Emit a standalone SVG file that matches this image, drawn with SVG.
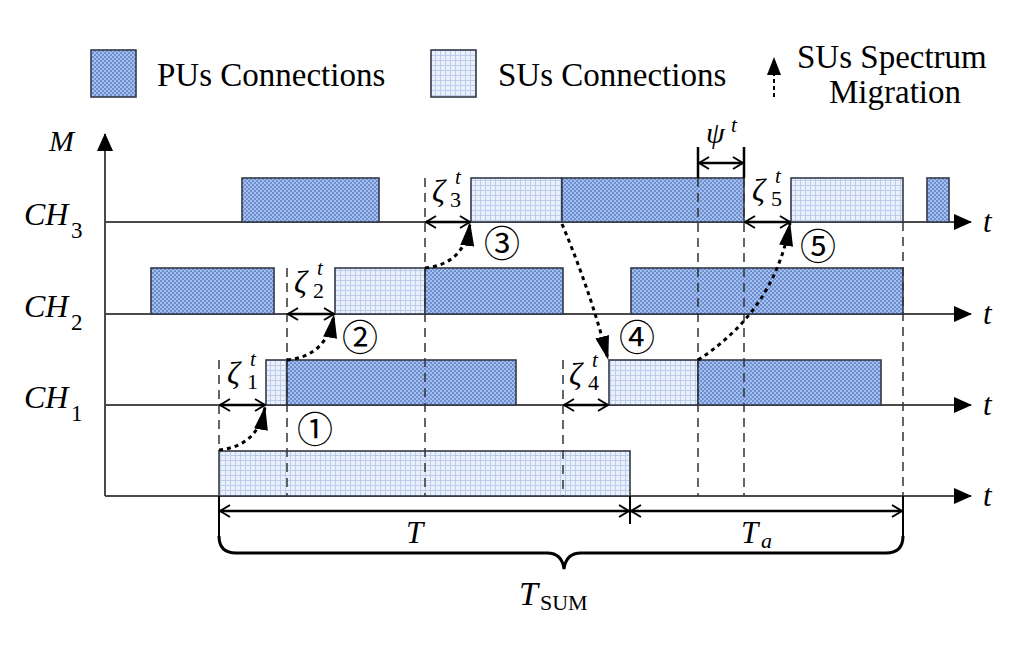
<svg xmlns="http://www.w3.org/2000/svg" width="1024" height="653" viewBox="0 0 1024 653">
<defs>
<pattern id="puPat" width="4" height="4" patternUnits="userSpaceOnUse">
<rect width="4" height="4" fill="#a6bfeb"/>
<rect width="2" height="2" fill="#6b8fd2"/>
<rect x="2" y="2" width="2" height="2" fill="#6b8fd2"/>
</pattern>
<pattern id="suPat" width="5" height="5" patternUnits="userSpaceOnUse">
<rect width="5" height="5" fill="#eaf0fb"/>
<path d="M0 0.5H5M0.5 0V5" stroke="#bccdea" stroke-width="1"/>
</pattern>
<marker id="open" viewBox="0 0 12 14" refX="11" refY="7" markerWidth="12" markerHeight="14" markerUnits="userSpaceOnUse" orient="auto-start-reverse">
<path d="M1,1 L11,7 L1,13" fill="none" stroke="#000" stroke-width="2"/>
</marker>
<marker id="solid" viewBox="0 0 24 14" refX="23" refY="7" markerWidth="24" markerHeight="14" markerUnits="userSpaceOnUse" orient="auto">
<path d="M0,0 L24,7 L0,14 z" fill="#000"/>
</marker>
<marker id="axisHead" viewBox="0 0 18 16" refX="17" refY="8" markerWidth="18" markerHeight="16" markerUnits="userSpaceOnUse" orient="auto">
<path d="M0,0 L18,8 L0,16 z" fill="#000"/>
</marker>
</defs>
<style>
.pu{fill:url(#puPat);stroke:#333a48;stroke-width:1.6}
.su{fill:url(#suPat);stroke:#333a48;stroke-width:1.6}
.axis{stroke:#4a4a4a;stroke-width:2;fill:none}
.dash{stroke:#333;stroke-width:1.5;stroke-dasharray:9 6;fill:none}
.dim{stroke:#000;stroke-width:2.5;fill:none;marker-start:url(#open);marker-end:url(#open)}
.mig{stroke:#000;stroke-width:3;stroke-dasharray:4 4;fill:none;marker-end:url(#solid)}
.tick{stroke:#000;stroke-width:2.5;fill:none}
text{font-family:'Liberation Serif','DejaVu Serif',serif;fill:#000}
.it{font-style:italic}
.circ{font-family:'Noto Sans CJK SC','DejaVu Sans',sans-serif;font-size:36px;text-anchor:middle}
</style>
<rect width="1024" height="653" fill="#fff"/>

<g id="legend">
<rect class="pu" x="91" y="50" width="45" height="47"/>
<text x="157" y="86" font-size="33">PUs Connections</text>
<rect class="su" x="431" y="50" width="45" height="47"/>
<text x="498" y="86" font-size="33">SUs Connections</text>
<line x1="774" y1="97" x2="774" y2="73" stroke="#000" stroke-width="2" stroke-dasharray="4 3"/>
<path d="M767,75 L774,57 L781,75 z" fill="#000"/>
<text x="797" y="68" font-size="33">SUs Spectrum</text>
<text x="829" y="103" font-size="33">Migration</text>
</g>

<g id="axes">
<line class="axis" x1="105" y1="496" x2="105" y2="134" marker-end="url(#axisHead)"/>
<line class="axis" x1="105" y1="222" x2="971" y2="222" marker-end="url(#axisHead)"/>
<line class="axis" x1="105" y1="314" x2="971" y2="314" marker-end="url(#axisHead)"/>
<line class="axis" x1="105" y1="405" x2="971" y2="405" marker-end="url(#axisHead)"/>
<line class="axis" x1="105" y1="496" x2="971" y2="496" marker-end="url(#axisHead)"/>
<text class="it" x="49" y="151" font-size="30">M</text>
<text class="it" x="24" y="225" font-size="32">CH</text>
<text x="71" y="238" font-size="23">3</text>
<text class="it" x="24" y="317" font-size="32">CH</text>
<text x="71" y="330" font-size="23">2</text>
<text class="it" x="24" y="408" font-size="32">CH</text>
<text x="71" y="421" font-size="23">1</text>
<text class="it" x="983" y="232" font-size="31">t</text>
<text class="it" x="983" y="324" font-size="31">t</text>
<text class="it" x="983" y="415" font-size="31">t</text>
<text class="it" x="983" y="506" font-size="31">t</text>
</g>

<g id="ch3">
<rect class="pu" x="242" y="178" width="137" height="44"/>
<rect class="su" x="471" y="178" width="91" height="44"/>
<rect class="pu" x="562" y="178" width="182" height="44"/>
<rect class="su" x="791" y="178" width="112" height="44"/>
<rect class="pu" x="927" y="178" width="22" height="44"/>
</g>
<g id="ch2">
<rect class="pu" x="151" y="268" width="123" height="46"/>
<rect class="su" x="335" y="268" width="90" height="46"/>
<rect class="pu" x="425" y="268" width="138" height="46"/>
<rect class="pu" x="631" y="268" width="272" height="46"/>
</g>
<g id="ch1">
<rect class="su" x="266" y="360" width="21" height="45"/>
<rect class="pu" x="287" y="360" width="229" height="45"/>
<rect class="su" x="609" y="360" width="89" height="45"/>
<rect class="pu" x="698" y="360" width="183" height="45"/>
</g>
<g id="base">
<rect class="su" x="219" y="451" width="411" height="45"/>
</g>

<g id="connectors">
<line class="dash" x1="219" y1="360" x2="219" y2="451"/>
<line class="dash" x1="287" y1="268" x2="287" y2="496"/>
<line class="dash" x1="425" y1="178" x2="425" y2="496"/>
<line class="dash" x1="563" y1="360" x2="563" y2="496"/>
<line class="dash" x1="698" y1="178" x2="698" y2="496"/>
<line class="dash" x1="744" y1="178" x2="744" y2="496"/>
<line class="dash" x1="903" y1="222" x2="903" y2="496"/>
<line x1="219" y1="496" x2="219" y2="540" stroke="#000" stroke-width="2"/>
<line x1="903" y1="496" x2="903" y2="540" stroke="#000" stroke-width="2"/>
<line x1="630" y1="496" x2="630" y2="524" stroke="#000" stroke-width="2"/>

<line class="tick" x1="698" y1="147" x2="698" y2="178"/>
<line class="tick" x1="744" y1="147" x2="744" y2="178"/>
<line class="dim" x1="699" y1="163" x2="743" y2="163"/>

<line class="dim" x1="220" y1="405" x2="265" y2="405"/>
<line class="dim" x1="288" y1="314" x2="334" y2="314"/>
<line class="dim" x1="426" y1="222" x2="470" y2="222"/>
<line class="dim" x1="564" y1="405" x2="608" y2="405"/>
<line class="dim" x1="745" y1="222" x2="790" y2="222"/>

<line class="dim" x1="220" y1="511" x2="629" y2="511"/>
<line class="dim" x1="631" y1="511" x2="902" y2="511"/>
<path d="M219,536 Q219,553 236,553 L547,553 Q562,553 564,569 Q566,553 581,553 L886,553 Q903,553 903,536" fill="none" stroke="#000" stroke-width="3"/>

<path class="mig" d="M219,450 Q258,446 265,407"/>
<path class="mig" d="M287,360 Q327,356 334,315"/>
<path class="mig" d="M425,268 Q465,264 470,223"/>
<path class="mig" d="M562,224 Q590,290 608,359"/>
<path class="mig" d="M698,360 Q775,310 790,223"/>
</g>

<g id="labels">
<text class="it" x="227" y="384" font-size="32">ζ</text>
<text class="it" x="250" y="366" font-size="21">t</text>
<text x="247" y="389" font-size="22">1</text>
<text class="it" x="294" y="293" font-size="32">ζ</text>
<text class="it" x="317" y="275" font-size="21">t</text>
<text x="313" y="298" font-size="22">2</text>
<text class="it" x="432" y="202" font-size="32">ζ</text>
<text class="it" x="455" y="184" font-size="21">t</text>
<text x="450" y="207" font-size="22">3</text>
<text class="it" x="569" y="385" font-size="32">ζ</text>
<text class="it" x="592" y="367" font-size="21">t</text>
<text x="588" y="390" font-size="22">4</text>
<text class="it" x="752" y="201" font-size="32">ζ</text>
<text class="it" x="775" y="183" font-size="21">t</text>
<text x="771" y="206" font-size="22">5</text>
<text class="it" x="706" y="143" font-size="30">ψ</text>
<text class="it" x="731" y="132" font-size="21">t</text>
<text class="circ" x="315" y="443">①</text>
<text class="circ" x="360" y="351">②</text>
<text class="circ" x="502" y="257">③</text>
<text class="circ" x="637" y="351">④</text>
<text class="circ" x="818" y="260">⑤</text>
<text class="it" x="406" y="543" font-size="31">T</text>
<text class="it" x="741" y="543" font-size="31">T</text>
<text class="it" x="761" y="548" font-size="22">a</text>
<text class="it" x="519" y="605" font-size="34">T</text>
<text x="540" y="610" font-size="22">SUM</text>
</g>
</svg>
